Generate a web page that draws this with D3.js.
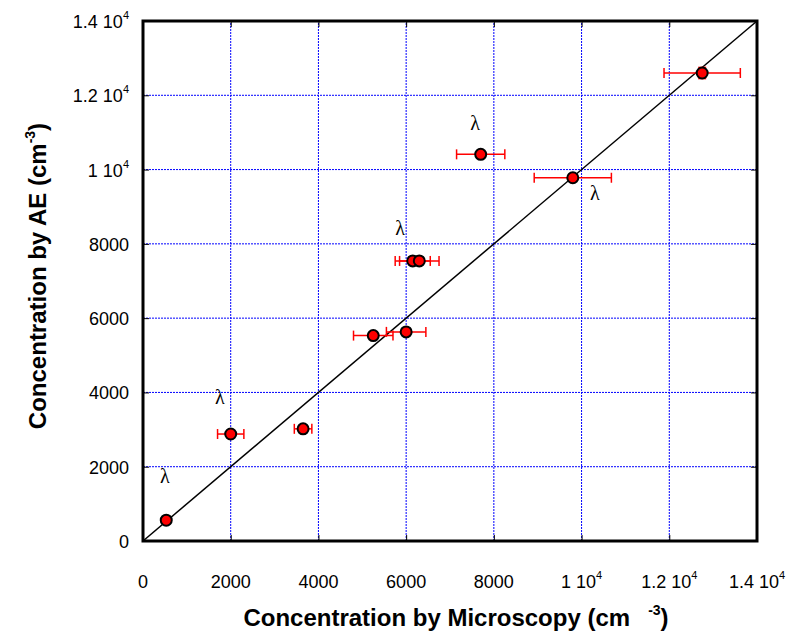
<!DOCTYPE html>
<html>
<head>
<meta charset="utf-8" />
<title>Concentration comparison</title>
<style>
body { margin: 0; background: #fff; }
text { font-family: "Liberation Sans", Arial, sans-serif; }
</style>
</head>
<body>
<div id="chart"></div>
<script src="https://d3js.org/d3.v7.min.js"></script>
<script>
// data
var microscopy = [530, 2000, 3650, 5250, 6000, 6150, 6300, 7700, 9800, 12750];
var ae         = [560, 2880, 3020, 5530, 5630, 7540, 7540, 10410, 9780, 12600];
var xErr       = [0, 300, 200, 450, 450, 400, 450, 550, 880, 870];
var yErr       = [0, 80, 80, 80, 80, 80, 80, 80, 80, 150];

var lambdaX = [500, 1750, 5860, 7570, 10300];
var lambdaY = [1560, 3690, 8240, 11060, 9180];

var tickValues = [0, 2000, 4000, 6000, 8000, 10000, 12000, 14000];
var tickMain = ['0', '2000', '4000', '6000', '8000', '1 10', '1.2 10', '1.4 10'];
var tickSup  = ['', '', '', '', '', '4', '4', '4'];

var width = 799, height = 635;
var margin = {left: 143, top: 21, right: 42, bottom: 94};

var svg = d3.select('#chart').append('svg')
  .attr('width', width).attr('height', height);

var x = d3.scaleLinear().domain([0, 14000]).range([margin.left, width - margin.right]);
var y = d3.scaleLinear().domain([0, 14000]).range([height - margin.bottom, margin.top]);

// grid
svg.append('g').selectAll('line.gx').data(tickValues.slice(1, -1)).enter().append('line')
  .attr('x1', x).attr('x2', x).attr('y1', y(0)).attr('y2', y(14000))
  .attr('stroke', '#0000ff').attr('stroke-width', 1).attr('stroke-dasharray', '2,1');
svg.append('g').selectAll('line.gy').data(tickValues.slice(1, -1)).enter().append('line')
  .attr('y1', y).attr('y2', y).attr('x1', x(0)).attr('x2', x(14000))
  .attr('stroke', '#0000ff').attr('stroke-width', 1).attr('stroke-dasharray', '2,1');

// inner ticks on all four sides
var tl = 6;
var fmt = function() { return ''; };
svg.append('g').attr('transform', 'translate(0,' + y(0) + ')')
  .call(d3.axisTop(x).tickValues(tickValues).tickSize(tl).tickFormat(fmt));
svg.append('g').attr('transform', 'translate(0,' + y(14000) + ')')
  .call(d3.axisBottom(x).tickValues(tickValues).tickSize(tl).tickFormat(fmt));
svg.append('g').attr('transform', 'translate(' + x(0) + ',0)')
  .call(d3.axisRight(y).tickValues(tickValues).tickSize(tl).tickFormat(fmt));
svg.append('g').attr('transform', 'translate(' + x(14000) + ',0)')
  .call(d3.axisLeft(y).tickValues(tickValues).tickSize(tl).tickFormat(fmt));
svg.selectAll('.domain').remove();
svg.selectAll('.tick line').attr('stroke', '#000').attr('stroke-width', 1);

// tick labels
var xl = svg.append('g').selectAll('text').data(tickValues).enter().append('text')
  .attr('x', function(d) { return x(d); }).attr('y', y(0) + 47)
  .attr('text-anchor', 'middle').attr('font-size', 18);
xl.append('tspan').text(function(d, i) { return tickMain[i]; });
xl.append('tspan').attr('dy', -9).attr('font-size', 11).text(function(d, i) { return tickSup[i]; });

var yl = svg.append('g').selectAll('text').data(tickValues).enter().append('text')
  .attr('x', x(0) - 14).attr('y', function(d) { return y(d) + 7; })
  .attr('text-anchor', 'end').attr('font-size', 18);
yl.append('tspan').text(function(d, i) { return tickMain[i]; });
yl.append('tspan').attr('dy', -9).attr('font-size', 11).text(function(d, i) { return tickSup[i]; });

// 1:1 line
svg.append('line')
  .attr('x1', x(0)).attr('y1', y(0)).attr('x2', x(14000)).attr('y2', y(14000))
  .attr('stroke', '#000').attr('stroke-width', 1.5);

// error bars
var pts = microscopy.map(function(m, i) { return {x: m, y: ae[i], ex: xErr[i], ey: yErr[i]}; });
var eb = svg.append('g').attr('stroke', '#ff0000').attr('stroke-width', 1.5);
pts.forEach(function(p) {
  if (p.ex > 0) {
    eb.append('line').attr('x1', x(p.x - p.ex)).attr('x2', x(p.x + p.ex)).attr('y1', y(p.y)).attr('y2', y(p.y));
    [p.x - p.ex, p.x + p.ex].forEach(function(v) {
      eb.append('line').attr('x1', x(v)).attr('x2', x(v)).attr('y1', y(p.y) - 5).attr('y2', y(p.y) + 5);
    });
  }
  if (p.ey > 0) {
    eb.append('line').attr('x1', x(p.x)).attr('x2', x(p.x)).attr('y1', y(p.y - p.ey)).attr('y2', y(p.y + p.ey));
    [p.y - p.ey, p.y + p.ey].forEach(function(v) {
      eb.append('line').attr('x1', x(p.x) - 4).attr('x2', x(p.x) + 4).attr('y1', y(v)).attr('y2', y(v));
    });
  }
});

// markers
svg.append('g').selectAll('circle').data(pts).enter().append('circle')
  .attr('cx', function(d) { return x(d.x); }).attr('cy', function(d) { return y(d.y); })
  .attr('r', 5.5).attr('fill', '#ff0000').attr('stroke', '#000').attr('stroke-width', 2);

// lambda annotations
svg.append('g').selectAll('text').data(lambdaX).enter().append('text')
  .attr('x', function(d) { return x(d); }).attr('y', function(d, i) { return y(lambdaY[i]); })
  .attr('text-anchor', 'middle').attr('font-size', 20)
  .style('font-family', '"Liberation Serif", "DejaVu Serif", serif')
  .text('\u03bb');

// frame
svg.append('rect')
  .attr('x', x(0)).attr('y', y(14000)).attr('width', x(14000) - x(0)).attr('height', y(0) - y(14000))
  .attr('fill', 'none').attr('stroke', '#000').attr('stroke-width', 3);

// axis titles
var xt = svg.append('text').attr('x', 456).attr('y', 626)
  .attr('text-anchor', 'middle').attr('font-size', 24).attr('font-weight', 'bold');
xt.append('tspan').text('Concentration by Microscopy (cm');
xt.append('tspan').attr('dx', 18).attr('dy', -11).attr('font-size', 14).text('-3');
xt.append('tspan').attr('dy', 11).text(')');

var yt = svg.append('text').attr('transform', 'translate(46,' + 276 + ') rotate(-90)')
  .attr('text-anchor', 'middle').attr('font-size', 24).attr('font-weight', 'bold');
yt.append('tspan').text('Concentration by AE (cm');
yt.append('tspan').attr('dy', -11).attr('font-size', 14).text('-3');
yt.append('tspan').attr('dy', 11).text(')');
</script>
</body>
</html>
